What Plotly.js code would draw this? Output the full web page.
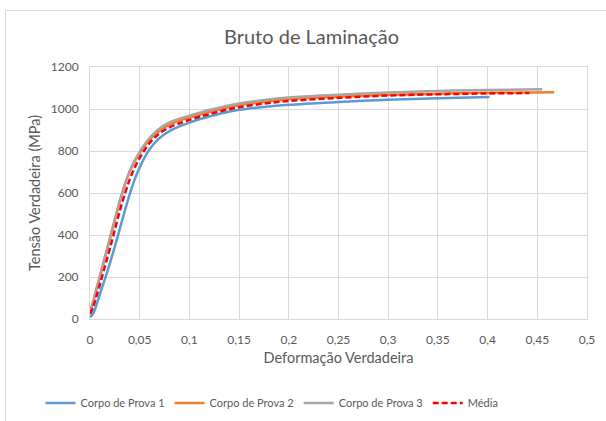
<!DOCTYPE html>
<html>
<head>
<meta charset="utf-8">
<script src="https://cdn.plot.ly/plotly-3.0.1.min.js"></script>
<style>
  html, body { margin: 0; padding: 0; background: #fff; overflow: hidden; }
  #frame { position: absolute; left: 5px; top: 10px; width: 700px; height: 500px;
           border-left: 1px solid #d9d9d9; border-top: 1px solid #d9d9d9; }
  #chart { position: absolute; left: 0; top: 0; width: 606px; height: 421px; }
</style>
</head>
<body>
<div id="frame"></div>
<div id="chart"></div>
<script>
// Corpo de Prova 1
const strain1 = [0, 0.003, 0.006, 0.01, 0.015, 0.02, 0.025, 0.03, 0.035, 0.04, 0.045, 0.05, 0.055, 0.06, 0.065, 0.07, 0.075, 0.08, 0.09, 0.1, 0.11, 0.12, 0.135, 0.15, 0.175, 0.2, 0.25, 0.3, 0.35, 0.402];
const stress1 = [8, 25, 60, 120, 190, 265, 345, 430, 515, 595, 665, 722, 770, 808, 838, 862, 880, 895, 917, 935, 951, 964, 982, 996, 1010, 1020, 1033, 1044, 1051, 1057];
// Corpo de Prova 2
const strain2 = [0, 0.003, 0.006, 0.01, 0.015, 0.02, 0.025, 0.03, 0.035, 0.04, 0.045, 0.05, 0.055, 0.06, 0.065, 0.07, 0.075, 0.08, 0.09, 0.1, 0.11, 0.12, 0.135, 0.15, 0.175, 0.2, 0.25, 0.3, 0.35, 0.4, 0.467];
const stress2 = [40, 80, 135, 205, 295, 385, 475, 562, 640, 703, 752, 790, 825, 854, 878, 897, 913, 926, 945, 959, 973, 985, 1003, 1018, 1034, 1046, 1058, 1068, 1073, 1077, 1080];
// Corpo de Prova 3
const strain3 = [0, 0.003, 0.006, 0.01, 0.015, 0.02, 0.025, 0.03, 0.035, 0.04, 0.045, 0.05, 0.055, 0.06, 0.065, 0.07, 0.075, 0.08, 0.09, 0.1, 0.11, 0.12, 0.135, 0.15, 0.175, 0.2, 0.25, 0.3, 0.35, 0.4, 0.455];
const stress3 = [35, 75, 130, 200, 290, 380, 470, 560, 640, 705, 755, 795, 832, 862, 887, 907, 923, 936, 954, 968, 982, 995, 1012, 1026, 1043, 1055, 1068, 1079, 1086, 1090, 1094];
// Média
const strainM = [0, 0.003, 0.006, 0.01, 0.015, 0.02, 0.025, 0.03, 0.035, 0.04, 0.045, 0.05, 0.055, 0.06, 0.065, 0.07, 0.075, 0.08, 0.09, 0.1, 0.11, 0.12, 0.135, 0.15, 0.175, 0.2, 0.25, 0.3, 0.35, 0.4, 0.442];
const stressM = [24, 55, 100, 165, 250, 335, 425, 515, 595, 665, 722, 767, 805, 838, 864, 884, 900, 913, 932, 948, 963, 975, 994, 1008, 1026, 1038, 1053, 1064, 1070, 1074, 1076];

const names = ['Corpo de Prova 1', 'Corpo de Prova 2', 'Corpo de Prova 3', 'Média'];
const xTickVals = [0, 0.05, 0.1, 0.15, 0.2, 0.25, 0.3, 0.35, 0.4, 0.45, 0.5];
const yTickVals = [0, 200, 400, 600, 800, 1000, 1200];

const traces = [
  {x: strain1, y: stress1, name: names[0], mode: 'lines',
   line: {color: '#5B9BD5', width: 2.5, shape: 'spline', smoothing: 1}},
  {x: strain2, y: stress2, name: names[1], mode: 'lines',
   line: {color: '#ED7D31', width: 2.5, shape: 'spline', smoothing: 1}},
  {x: strain3, y: stress3, name: names[2], mode: 'lines',
   line: {color: '#A5A5A5', width: 2.5, shape: 'spline', smoothing: 1}},
  {x: strainM, y: stressM, name: names[3], mode: 'lines',
   line: {color: '#FF0000', width: 2.5, dash: '6px,3px', shape: 'spline', smoothing: 1}}
];

const fontFam = 'Lato, "Open Sans", sans-serif';
const grey = '#595959';

const layout = {
  width: 606, height: 421,
  paper_bgcolor: 'rgba(0,0,0,0)',
  plot_bgcolor: 'rgba(0,0,0,0)',
  separators: ',.',
  font: {family: fontFam, color: grey, size: 12},
  margin: {l: 90, r: 19, t: 67, b: 102, autoexpand: false},
  title: {text: 'Bruto de Laminação', font: {family: fontFam, size: 20, color: grey},
          x: 0.514, xref: 'container', xanchor: 'center',
          y: 1 - 37/421, yref: 'container', yanchor: 'middle'},
  xaxis: {range: [0, 0.5], tickvals: xTickVals, showgrid: true, gridcolor: '#d9d9d9', gridwidth: 1,
          zeroline: false, showline: true, mirror: true, linecolor: '#d9d9d9', linewidth: 1,
          ticks: '', ticklabelstandoff: 10, automargin: false,
          tickfont: {family: fontFam, size: 12, color: grey},
          title: {text: 'Deformação Verdadeira', font: {family: fontFam, size: 14.5, color: grey}, standoff: 6}},
  yaxis: {range: [0, 1200], tickvals: yTickVals, showgrid: true, gridcolor: '#d9d9d9', gridwidth: 1,
          zeroline: false, showline: true, mirror: true, linecolor: '#d9d9d9', linewidth: 1,
          ticks: '', ticklabelstandoff: 8, automargin: false,
          tickfont: {family: fontFam, size: 12, color: grey},
          title: {text: 'Tensão Verdadeira (MPa)', font: {family: fontFam, size: 14.5, color: grey}, standoff: 6}},
  showlegend: true,
  legend: {orientation: 'h', xref: 'container', x: 272 / 606, xanchor: 'center',
           yref: 'container', y: 1 - 403 / 421, yanchor: 'middle',
           font: {family: fontFam, size: 11, color: grey}, itemwidth: 30, traceorder: 'normal'}
};

Plotly.newPlot('chart', traces, layout, {displayModeBar: false, staticPlot: true});
</script>
</body>
</html>
